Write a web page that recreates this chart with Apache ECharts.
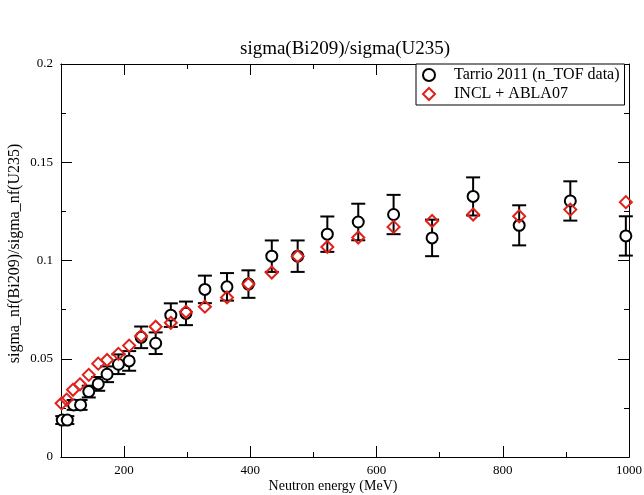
<!DOCTYPE html>
<html>
<head>
<meta charset="utf-8">
<script src="https://cdn.jsdelivr.net/npm/echarts@6/dist/echarts.min.js"></script>
<style>
html,body{margin:0;padding:0;background:#fff;}
#chart{width:644px;height:495px;}
</style>
</head>
<body>
<div id="chart"></div>
<script>
// n_TOF measurement (Tarrio 2011)
var energyExp = [102, 110, 120, 131, 144, 159, 173, 191, 208, 227, 250, 274, 298, 328, 363, 397, 434, 475, 522, 571, 627, 688, 753, 826, 907, 995];
var valueExp  = [0.0188, 0.0188, 0.0265, 0.0265, 0.0333, 0.0372, 0.0421, 0.0472, 0.0489, 0.0609, 0.0579, 0.0722, 0.0731, 0.0853, 0.0866, 0.0880, 0.1022, 0.1022, 0.1134, 0.1196, 0.1234, 0.1115, 0.1326, 0.1179, 0.1303, 0.1125];
var errorExp  = [0.002, 0.002, 0.0025, 0.0025, 0.003, 0.0035, 0.004, 0.005, 0.005, 0.0055, 0.0055, 0.006, 0.006, 0.007, 0.007, 0.007, 0.008, 0.008, 0.009, 0.0093, 0.01, 0.0093, 0.0097, 0.0102, 0.01, 0.01];
// INCL + ABLA07 calculation
var energyCalc = [101, 109, 119, 130, 144, 159, 173, 191, 208, 227, 250, 274, 298, 328, 363, 397, 434, 475, 522, 571, 627, 688, 753, 826, 907, 995];
var valueCalc  = [0.0273, 0.0292, 0.0342, 0.037, 0.0418, 0.0475, 0.0494, 0.0525, 0.0567, 0.0616, 0.0663, 0.0683, 0.0739, 0.0765, 0.0812, 0.0880, 0.0939, 0.1022, 0.1069, 0.1117, 0.1171, 0.1201, 0.1234, 0.1225, 0.1259, 0.1297];
var majorX = [200, 400, 600, 800, 1000];
var minorX = [300, 500, 700, 900];

var FONT = 'Liberation Serif';

var zip = function(xs, ys){
	var out = [];
	for (var i = 0; i < xs.length; i++) out.push([xs[i], ys[i]]);
	return out;
};
var errData = [];
for (var i = 0; i < energyExp.length; i++) {
	errData.push([energyExp[i], valueExp[i] - errorExp[i], valueExp[i] + errorExp[i]]);
}

var xAxisBase = function(pos, ticks, len, labels){
	return {
		type: 'value', position: pos, min: 100, max: 1000,
		axisLine: {show: true, onZero: false, lineStyle: {color: '#000', width: 1}},
		axisTick: {show: true, inside: true, length: len, customValues: ticks, lineStyle: {color: '#000'}},
		axisLabel: labels ? {
			show: true, customValues: ticks, color: '#000', fontFamily: FONT, fontSize: 13, margin: 7,
			formatter: function(v){ return String(v); }
		} : {show: false},
		splitLine: {show: false}
	};
};
var yAxisBase = function(pos, labels){
	return {
		type: 'value', position: pos, min: 0, max: 0.2, interval: 0.05,
		axisLine: {show: true, onZero: false, lineStyle: {color: '#000', width: 1}},
		axisTick: {show: true, inside: true, length: 11, lineStyle: {color: '#000'}},
		minorTick: {show: true, splitNumber: 2, length: 5, lineStyle: {color: '#000'}},
		axisLabel: labels ? {show: true, color: '#000', fontFamily: FONT, fontSize: 13, margin: 8} : {show: false},
		splitLine: {show: false}, minorSplitLine: {show: false}
	};
};

var myChart = echarts.init(document.getElementById('chart'));
var xBottom = xAxisBase('bottom', majorX, 11, true);
xBottom.name = 'Neutron energy (MeV)';
xBottom.nameLocation = 'middle';
xBottom.nameGap = 22;
xBottom.nameMoveOverlap = false;
xBottom.nameTextStyle = {color: '#000', fontFamily: FONT, fontSize: 14, padding: [0, 24, 0, 0]};
var yLeft = yAxisBase('left', true);
yLeft.name = 'sigma_nf(Bi209)/sigma_nf(U235)';
yLeft.nameLocation = 'middle';
yLeft.nameGap = 38;
yLeft.nameMoveOverlap = false;
yLeft.nameTextStyle = {color: '#000', fontFamily: FONT, fontSize: 16, padding: [0, 0, 0, 14]};

var option = {
	backgroundColor: '#fff',
	animation: false,
	title: {
		text: 'sigma(Bi209)/sigma(U235)',
		left: 340, top: 35, textAlign: 'center',
		textStyle: {color: '#000', fontFamily: FONT, fontSize: 19, fontWeight: 'normal'}
	},
	grid: {left: 61, right: 15, top: 64, bottom: 38, outerBoundsMode: 'none', containLabel: false},
	legend: {
		data: ['Tarrio 2011 (n_TOF data)', 'INCL + ABLA07'],
		orient: 'vertical', left: 416, top: 64,
		backgroundColor: '#fff',
		borderColor: '#000', borderWidth: 1,
		padding: [3, 5, 3, 6],
		itemGap: 3, itemWidth: 12, itemHeight: 12,
		textStyle: {color: '#000', fontFamily: FONT, fontSize: 16, padding: [0, 0, 0, 14]},
		selectedMode: false
	},
	xAxis: [
		xBottom,
		xAxisBase('bottom', minorX, 5, false),
		xAxisBase('top', majorX, 11, false),
		xAxisBase('top', minorX, 5, false)
	],
	yAxis: [yLeft, yAxisBase('right', false)],
	series: [
		{
			name: 'errorbars', type: 'custom', xAxisIndex: 0, yAxisIndex: 0,
			data: errData, z: 2,
			renderItem: function(params, api){
				var lo = api.coord([api.value(0), api.value(1)]);
				var hi = api.coord([api.value(0), api.value(2)]);
				var w = 7;
				var st = {stroke: '#000', lineWidth: 2};
				return {type: 'group', children: [
					{type: 'line', shape: {x1: lo[0], y1: lo[1], x2: hi[0], y2: hi[1]}, style: st},
					{type: 'line', shape: {x1: lo[0] - w, y1: lo[1], x2: lo[0] + w, y2: lo[1]}, style: st},
					{type: 'line', shape: {x1: hi[0] - w, y1: hi[1], x2: hi[0] + w, y2: hi[1]}, style: st}
				]};
			}
		},
		{
			name: 'Tarrio 2011 (n_TOF data)', type: 'scatter', xAxisIndex: 0, yAxisIndex: 0,
			data: zip(energyExp, valueExp), z: 3,
			symbol: 'circle', symbolSize: 11,
			itemStyle: {color: '#fff', borderColor: '#000', borderWidth: 2, opacity: 1}
		},
		{
			name: 'INCL + ABLA07', type: 'scatter', xAxisIndex: 0, yAxisIndex: 0,
			data: zip(energyCalc, valueCalc), z: 4,
			symbol: 'diamond', symbolSize: 12,
			itemStyle: {color: 'rgba(255,255,255,0)', borderColor: '#e0201b', borderWidth: 2, opacity: 1}
		}
	]
};
myChart.setOption(option);
window.onresize = function(){
	myChart.resize();
};
</script>
</body>
</html>
